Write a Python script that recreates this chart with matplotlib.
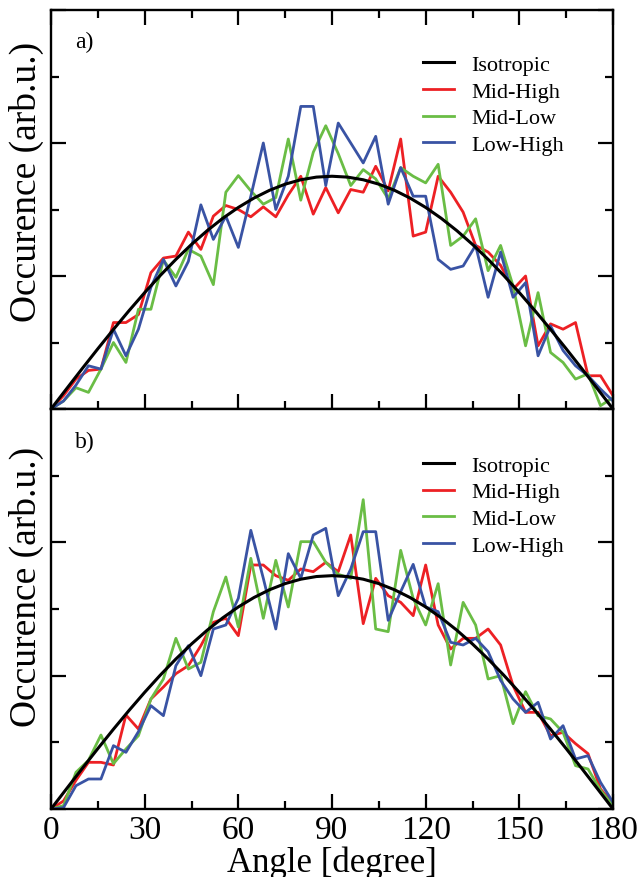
import numpy as np
import matplotlib
matplotlib.use("Agg")
import matplotlib.pyplot as plt
from matplotlib.ticker import MultipleLocator, NullFormatter

plt.rcParams['font.family'] = ['Liberation Serif', 'DejaVu Serif']

# ---------------- data ----------------
angles = list(range(0, 181, 4))

iso_angles = list(range(0, 181, 5))
iso_values = [0.0, 0.305, 0.608, 0.906, 1.197, 1.479, 1.75, 2.008, 2.25, 2.475,
              2.681, 2.867, 3.031, 3.172, 3.289, 3.381, 3.447, 3.487, 3.5,
              3.487, 3.447, 3.381, 3.289, 3.172, 3.031, 2.867, 2.681, 2.475,
              2.25, 2.008, 1.75, 1.479, 1.197, 0.906, 0.608, 0.305, 0.0]

a_mid_high = [0.0, 0.2, 0.45, 0.58, 0.6, 1.3, 1.3, 1.42, 2.05, 2.27, 2.3, 2.66,
              2.4, 2.9, 3.06, 3.0, 2.89, 3.04, 2.89, 3.22, 3.5, 2.93, 3.33, 2.95,
              3.3, 3.26, 3.65, 3.28, 4.06, 2.6, 2.66, 3.5, 3.26, 2.96, 2.46, 2.36,
              2.16, 1.8, 2.0, 0.95, 1.28, 1.2, 1.3, 0.5, 0.5, 0.2]
a_mid_low = [0.0, 0.12, 0.32, 0.25, 0.6, 1.0, 0.7, 1.5, 1.5, 2.24, 1.98, 2.4,
             2.3, 1.87, 3.26, 3.51, 3.28, 3.08, 3.18, 4.06, 3.14, 3.86, 4.26, 3.84,
             3.36, 3.6, 3.46, 3.16, 3.63, 3.5, 3.4, 3.68, 2.46, 2.6, 2.86, 2.08,
             2.46, 1.85, 0.95, 1.75, 0.85, 0.7, 0.45, 0.53, 0.05, 0.17]
a_low_high = [0.0, 0.12, 0.36, 0.65, 0.6, 1.2, 0.8, 1.2, 1.83, 2.25, 1.85, 2.22,
              3.07, 2.55, 2.9, 2.43, 3.2, 4.0, 3.0, 3.5, 4.55, 4.55, 3.36, 4.3,
              4.0, 3.7, 4.1, 3.08, 3.63, 3.2, 3.2, 2.25, 2.1, 2.15, 2.46, 1.68,
              2.36, 1.68, 1.9, 0.8, 1.25, 0.88, 0.65, 0.5, 0.3, 0.12]

b_mid_high = [0.0, 0.12, 0.43, 0.7, 0.7, 0.66, 1.41, 1.2, 1.65, 1.83, 2.03, 2.15,
              2.45, 2.8, 2.86, 2.6, 3.66, 3.66, 3.5, 3.43, 3.6, 3.56, 3.7, 3.56,
              4.11, 2.78, 3.46, 3.2, 3.1, 2.9, 3.66, 2.76, 2.4, 2.56, 2.56, 2.7,
              2.46, 1.85, 1.45, 1.45, 1.1, 1.15, 0.98, 0.83, 0.3, 0.08]
b_mid_low = [0.0, 0.05, 0.55, 0.73, 1.11, 0.68, 0.9, 1.1, 1.65, 1.95, 2.56, 2.1,
             2.2, 2.96, 3.48, 2.73, 3.76, 2.86, 3.73, 3.03, 4.01, 4.01, 3.7, 3.52,
             3.46, 4.64, 2.7, 2.66, 3.88, 3.16, 2.76, 3.38, 2.16, 3.1, 2.76, 1.95,
             2.0, 1.28, 1.76, 1.4, 1.35, 1.15, 0.65, 0.6, 0.28, 0.05]
b_low_high = [0.0, 0.02, 0.35, 0.45, 0.45, 0.95, 0.85, 1.16, 1.55, 1.4, 2.15, 2.45,
              2.0, 2.7, 2.76, 3.16, 4.18, 3.46, 2.7, 3.83, 3.46, 4.11, 4.21, 3.2,
              3.6, 4.16, 4.16, 2.83, 3.26, 3.67, 3.03, 2.96, 2.5, 2.46, 2.56, 2.36,
              1.93, 1.65, 1.45, 1.6, 1.05, 1.25, 0.75, 0.8, 0.4, 0.1]

series_labels = ["Isotropic", "Mid-High", "Mid-Low", "Low-High"]
x_ticks = [0, 30, 60, 90, 120, 150, 180]
panel_labels = ["a)", "b)"]

colors = ["#000000", "#ed2024", "#6abd45", "#3953a4"]

# ---------------- figure ----------------
fig = plt.figure(figsize=(6.43, 8.78), dpi=100)
W, H = 643.0, 878.0
left, right = 51, 613
ax_a = fig.add_axes([left / W, 1 - 410 / H, (right - left) / W, (410 - 11) / H])
ax_b = fig.add_axes([left / W, 1 - 810 / H, (right - left) / W, (810 - 410) / H])

panels = [
    (ax_a, [a_mid_high, a_mid_low, a_low_high], panel_labels[0], 0.889, 0.571),
    (ax_b, [b_mid_high, b_mid_low, b_low_high], panel_labels[1], 0.885, 0.557),
]

for ax, data, plabel, leg_top, ylab_y in panels:
    ax.plot(iso_angles, iso_values, color=colors[0], lw=2.2, label=series_labels[0],
            zorder=3)
    for vals, col, lab in zip(data, colors[1:], series_labels[1:]):
        ax.plot(angles, vals, color=col, lw=2.0, label=lab, zorder=2)
    ax.set_xlim(0, 180)
    ax.set_ylim(0, 6)
    ax.xaxis.set_major_locator(MultipleLocator(30))
    ax.xaxis.set_minor_locator(MultipleLocator(15))
    ax.yaxis.set_major_locator(MultipleLocator(2))
    ax.yaxis.set_minor_locator(MultipleLocator(1))
    ax.yaxis.set_major_formatter(NullFormatter())
    for s in ax.spines.values():
        s.set_linewidth(1.7)
    ax.tick_params(which='major', direction='in', length=11, width=1.6,
                   left=True, right=True, top=True, bottom=True)
    ax.tick_params(which='minor', direction='in', length=6, width=1.6,
                   left=True, right=True, top=True, bottom=True)
    ax.set_ylabel("Occurence (arb.u.)", fontsize=27)
    ax.yaxis.set_label_coords(-0.012, ylab_y)
    ax.text(0.043, 0.92, plabel, transform=ax.transAxes, fontsize=17,
            ha='left', va='center')
    ax.legend(loc='upper left', bbox_to_anchor=(0.662, leg_top), frameon=False,
              fontsize=16, handlelength=1.4, handletextpad=0.77,
              labelspacing=0.28, borderpad=0, borderaxespad=0)

ax_a.xaxis.set_major_formatter(NullFormatter())
ax_b.tick_params(which='both', top=False)
ax_b.set_xticks(x_ticks)
ax_b.set_xticklabels([str(t) for t in x_ticks], fontsize=24)
ax_b.tick_params(axis='x', which='major', pad=4)
ax_b.set_xlabel("Angle [degree]", fontsize=25, labelpad=0)

fig.savefig("out.png", dpi=100)
